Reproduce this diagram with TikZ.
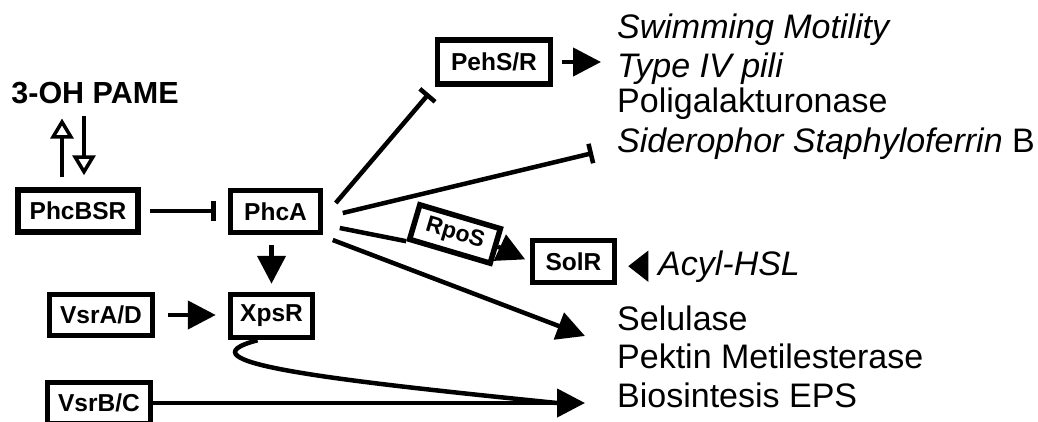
\documentclass[tikz,border=0pt]{standalone}
\usepackage{fontspec}
\setmainfont{Liberation Sans}
\usetikzlibrary{arrows.meta}

\tikzset{
  gene/.style={draw, line width=5.5pt, inner sep=0, font=\fontsize{24.5}{28}\selectfont\bfseries},
  outtext/.style={anchor=base west, inner sep=0, font=\fontsize{34}{38}\selectfont},
  act/.style={line width=4.5pt, -{Triangle[length=28pt,width=28pt]}},
  inh/.style={line width=4.5pt, -{Bar[width=20pt]}},
  sig/.style={line width=3.5pt, -{Triangle[open,length=20pt,width=23pt]}}
}

\begin{document}
\begin{tikzpicture}[x=1pt, y=-1pt]
                \path[use as bounding box, fill=white] (0,0) rectangle (1038,421);

                \node[anchor=base, inner sep=0, font=\fontsize{30.5}{34}\selectfont\bfseries] (PAME) at (95,103) {3-OH PAME};
                \node[gene, minimum width=120pt, minimum height=42pt] (PhcBSR) at (78,211) {PhcBSR};
                \node[gene, minimum width=90pt, minimum height=42pt] (PhcA) at (275.5,211.5) {PhcA};
                \node[gene, minimum width=113pt, minimum height=44pt] (PehSR) at (494,62) {PehS/R};
                \node[gene, minimum width=82pt, minimum height=42pt] (SolR) at (573.5,261.5) {SolR};
                \node[gene, minimum width=82pt, minimum height=43pt] (XpsR) at (271.5,316) {XpsR};
                \node[gene, minimum width=103pt, minimum height=41pt] (VsrAD) at (101,315) {VsrA/D};
                \node[gene, minimum width=103pt, minimum height=41pt] (VsrBC) at (99,403) {VsrB/C};
                \node[gene, rotate=-16.5, minimum width=84pt, minimum height=36pt, font=\fontsize{23}{26}\selectfont\bfseries] (RpoS) at (455,234) {RpoS};

                \node[outtext] (Swim) at (617,38) {\itshape Swimming Motility};
                \node[outtext] (Type) at (617,77) {\itshape Type IV pili};
                \node[outtext] (Poli) at (617,112) {Poligalakturonase};
                \node[outtext] (Sid) at (617,152) {{\itshape Siderophor Staphyloferrin\/} B};
                \node[outtext] (Acyl) at (658,275) {\itshape Acyl-HSL};
                \node[outtext] (Sel) at (617,330) {Selulase};
                \node[outtext] (Pek) at (617,368) {Pektin Metilesterase};
                \node[outtext] (EPS) at (617,407) {Biosintesis EPS};

                \coordinate (SidBar) at (593,153);
                \coordinate (SelTip) at (585,336);

                \draw[sig, shorten <=10pt, shorten >=15pt] ([xshift=-16pt]PhcBSR.north) -- ([xshift=-16pt]PhcBSR.north |- PAME.south);
                \draw[sig, shorten <=12pt, shorten >=12pt] ([xshift=6pt]PhcBSR.north |- PAME.south) -- ([xshift=6pt]PhcBSR.north);
                \draw[inh, shorten <=9pt, shorten >=12pt] (PhcBSR.east) -- (PhcBSR.east -| PhcA.west);
                \draw[act, shorten <=10pt, shorten >=8pt] (PhcA.south -| XpsR.north) -- (XpsR.north);
                \draw[act, shorten <=13pt, shorten >=12pt] (VsrAD.east) -- (VsrAD.east -| XpsR.west);
                \draw[act, shorten <=9pt] (PehSR.east) -- ([xshift=-16pt]PehSR.east -| Swim.west);
                \draw[inh, shorten >=9pt] ([shift={(12.5,-8.5)}]PhcA.east) -- (PehSR.south west);
                \draw[inh] ([shift={(19.5,1.5)}]PhcA.east) -- (SidBar);
                \draw[line width=4.5pt] ([shift={(16.5,16.5)}]PhcA.east) -- (RpoS.south west);
                \draw[act, shorten >=5pt] (RpoS.east) -- (SolR.west);
                \draw[line width=1pt, -{Triangle[length=20pt,width=31pt]}, shorten <=10pt, shorten >=11pt] (Acyl.west) -- (Acyl.west -| SolR.east);
                \draw[act] ([shift={(9.5,28.5)}]PhcA.east) -- (SelTip);
                \draw[act, shorten >=32pt] (VsrBC.east) -- (VsrBC.east -| EPS.west);
                \draw[line width=4.5pt] ([xshift=-14pt]XpsR.south) .. controls (175,362) and (330,380) .. ([xshift=-60pt]VsrBC.east -| EPS.west);
\end{tikzpicture}
\end{document}
